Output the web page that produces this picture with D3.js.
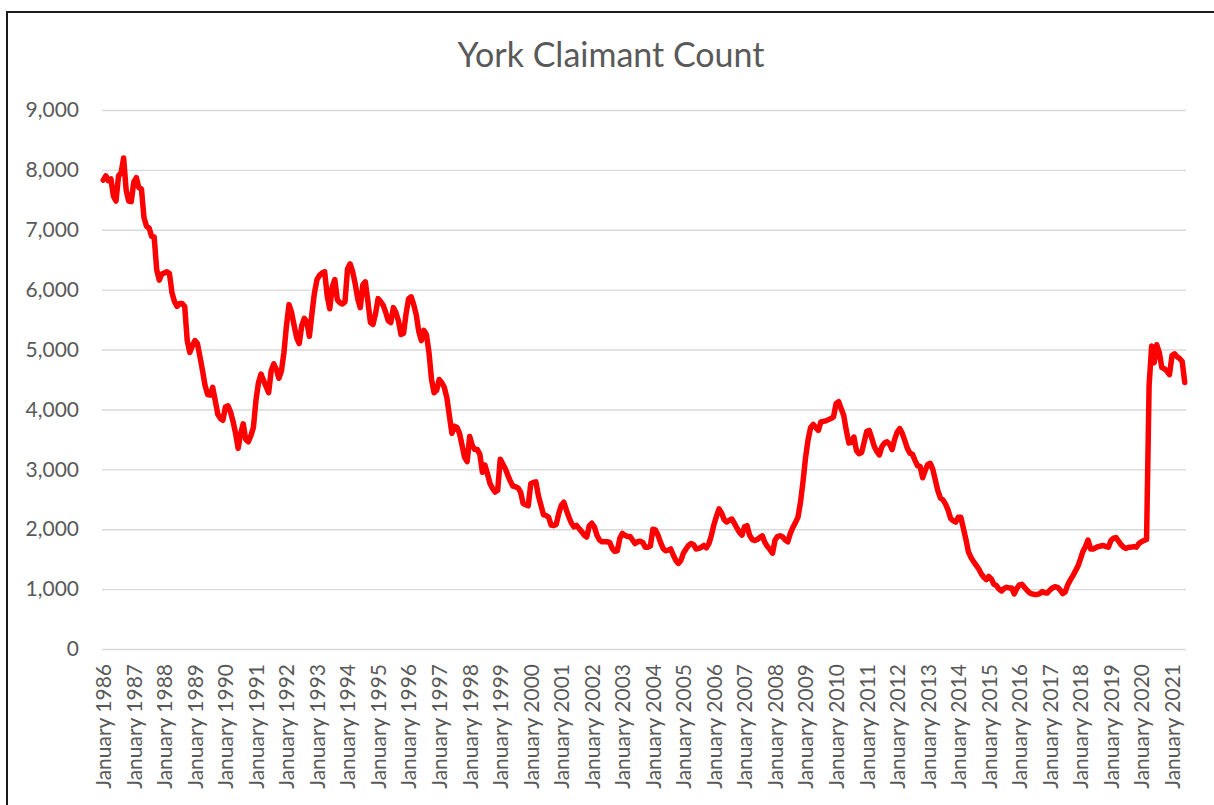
<!DOCTYPE html>
<html>
<head>
<meta charset="utf-8">
<script src="https://cdn.jsdelivr.net/npm/d3@7"></script>
<style>
  body { margin: 0; background: #fff; }
  svg { display: block; font-family: Lato, "Open Sans", sans-serif; }
</style>
</head>
<body>
<div id="chart"></div>
<script>
// monthly claimant count, York, from January 1986
var startYear = 1986;
var claimants = [
  7830, 7900, 7820, 7850, 7560, 7480, 7900, 7950, 8200, 7660, 7480, 7470, // 1986
  7800, 7870, 7700, 7680, 7200, 7060, 7030, 6890, 6880, 6330, 6160, 6260, // 1987
  6280, 6300, 6270, 5950, 5800, 5720, 5770, 5770, 5720, 5150, 4950, 5060, // 1988
  5150, 5100, 4880, 4650, 4400, 4250, 4240, 4370, 4150, 3920, 3850, 3820, // 1989
  4040, 4060, 3960, 3800, 3600, 3350, 3600, 3760, 3500, 3460, 3560, 3700, // 1990
  4150, 4450, 4590, 4480, 4380, 4280, 4650, 4760, 4670, 4520, 4640, 4950, // 1991
  5400, 5750, 5620, 5400, 5200, 5100, 5400, 5520, 5460, 5220, 5600, 5950, // 1992
  6170, 6240, 6280, 6300, 5900, 5680, 6050, 6170, 5830, 5780, 5760, 5800, // 1993
  6350, 6430, 6300, 6100, 5850, 5700, 6080, 6130, 5800, 5450, 5420, 5600, // 1994
  5850, 5800, 5740, 5620, 5480, 5450, 5700, 5620, 5480, 5250, 5270, 5600, // 1995
  5850, 5880, 5750, 5580, 5300, 5150, 5320, 5250, 4950, 4500, 4280, 4320, // 1996
  4500, 4450, 4370, 4200, 3900, 3600, 3720, 3700, 3600, 3400, 3200, 3130, // 1997
  3550, 3400, 3330, 3330, 3250, 2950, 3070, 2920, 2760, 2680, 2620, 2650, // 1998
  3170, 3090, 3010, 2900, 2800, 2720, 2710, 2690, 2620, 2430, 2410, 2390, // 1999
  2760, 2780, 2790, 2560, 2400, 2240, 2230, 2200, 2070, 2060, 2080, 2260, // 2000
  2400, 2450, 2320, 2200, 2100, 2040, 2065, 2010, 1960, 1900, 1870, 2060, // 2001
  2100, 2040, 1900, 1820, 1790, 1790, 1790, 1780, 1680, 1630, 1640, 1850, // 2002
  1930, 1900, 1880, 1880, 1820, 1760, 1790, 1800, 1780, 1700, 1700, 1720, // 2003
  2000, 1990, 1900, 1780, 1680, 1640, 1650, 1670, 1570, 1480, 1430, 1480, // 2004
  1600, 1670, 1730, 1760, 1740, 1670, 1680, 1700, 1730, 1690, 1760, 1900, // 2005
  2080, 2220, 2340, 2270, 2160, 2120, 2150, 2170, 2100, 2020, 1950, 1900, // 2006
  2040, 2060, 1900, 1830, 1810, 1830, 1860, 1890, 1780, 1710, 1660, 1600, // 2007
  1820, 1880, 1890, 1870, 1820, 1790, 1930, 2030, 2110, 2200, 2450, 2800, // 2008
  3200, 3500, 3700, 3750, 3700, 3650, 3790, 3800, 3810, 3830, 3850, 3880, // 2009
  4100, 4130, 4010, 3900, 3650, 3440, 3450, 3540, 3310, 3260, 3280, 3450, // 2010
  3630, 3650, 3520, 3380, 3300, 3240, 3380, 3440, 3460, 3420, 3330, 3500, // 2011
  3620, 3680, 3600, 3480, 3350, 3270, 3250, 3150, 3060, 3050, 2860, 2980, // 2012
  3080, 3100, 3000, 2820, 2640, 2520, 2490, 2420, 2320, 2180, 2140, 2120, // 2013
  2200, 2200, 2020, 1830, 1620, 1530, 1460, 1400, 1340, 1260, 1200, 1160, // 2014
  1210, 1170, 1080, 1060, 1000, 970, 1010, 1030, 1020, 1020, 920, 1010,   // 2015
  1070, 1080, 1030, 980, 940, 920, 910, 910, 925, 960, 940, 935,          // 2016
  985, 1020, 1040, 1030, 990, 925, 950, 1070, 1150, 1220, 1300, 1380,     // 2017
  1500, 1630, 1710, 1820, 1670, 1670, 1690, 1710, 1720, 1730, 1710, 1700, // 2018
  1810, 1850, 1860, 1800, 1740, 1700, 1680, 1700, 1700, 1710, 1700, 1760, // 2019
  1790, 1810, 1830, 4400, 5060, 4780, 5080, 4950, 4700, 4680, 4640, 4580, // 2020
  4900, 4930, 4880, 4850, 4800, 4450                                      // 2021
];
var yTicks = [0, 1000, 2000, 3000, 4000, 5000, 6000, 7000, 8000, 9000];
var titleText = "York Claimant Count";

var W = 1214, H = 805;
var margin = {top: 110, right: 28, bottom: 156, left: 102};
var width = W - margin.left - margin.right;
var height = H - margin.top - margin.bottom;

var months = claimants.map(function(v, i) {
  return {key: i, year: startYear + Math.floor(i / 12), month: i % 12, value: v};
});

var svg = d3.select("#chart").append("svg")
  .attr("width", W)
  .attr("height", H);

// chart area border
svg.append("rect")
  .attr("x", 7).attr("y", 12)
  .attr("width", W + 20).attr("height", H + 20)
  .attr("fill", "none")
  .attr("stroke", "#1a1a1a")
  .attr("stroke-width", 2);

svg.append("text")
  .attr("x", 611).attr("y", 67)
  .attr("text-anchor", "middle")
  .attr("font-size", "34px")
  .attr("fill", "#595959")
  .text(titleText);

var g = svg.append("g")
  .attr("transform", "translate(" + margin.left + "," + margin.top + ")");

var x = d3.scalePoint()
  .domain(months.map(function(d) { return d.key; }))
  .range([0, width])
  .padding(0.5);

var y = d3.scaleLinear()
  .domain([0, 9000])
  .range([height, 0]);

// y axis + gridlines
var yAxis = g.append("g")
  .call(d3.axisLeft(y)
    .tickValues(yTicks)
    .tickFormat(d3.format(","))
    .tickSize(-width)
    .tickPadding(23));
yAxis.select(".domain").remove();
yAxis.selectAll("line")
  .attr("stroke", "#d9d9d9")
  .attr("stroke-width", 1.4);
yAxis.selectAll("text")
  .attr("font-size", "21px")
  .attr("font-family", "Lato, sans-serif")
  .attr("fill", "#595959");

// x axis, a label every January
var januaries = months.filter(function(d) { return d.month === 0; }).map(function(d) { return d.key; });
var xAxis = g.append("g")
  .attr("transform", "translate(0," + height + ")")
  .call(d3.axisBottom(x)
    .tickValues(januaries)
    .tickFormat(function(k) { return "January " + (startYear + k / 12); })
    .tickSize(0));
xAxis.select(".domain").remove();
xAxis.selectAll("text")
  .attr("font-size", "21px")
  .attr("font-family", "Lato, sans-serif")
  .attr("fill", "#595959")
  .attr("text-anchor", "end")
  .attr("dy", "0.35em")
  .attr("transform", "translate(0,15)rotate(-90)")
  .attr("y", 0)
  .attr("x", 0);

var line = d3.line()
  .x(function(d) { return x(d.key); })
  .y(function(d) { return y(d.value); });

g.append("path")
  .datum(months)
  .attr("fill", "none")
  .attr("stroke", "#ff0000")
  .attr("stroke-width", 5.5)
  .attr("stroke-linejoin", "round")
  .attr("stroke-linecap", "round")
  .attr("d", line);
</script>
</body>
</html>
